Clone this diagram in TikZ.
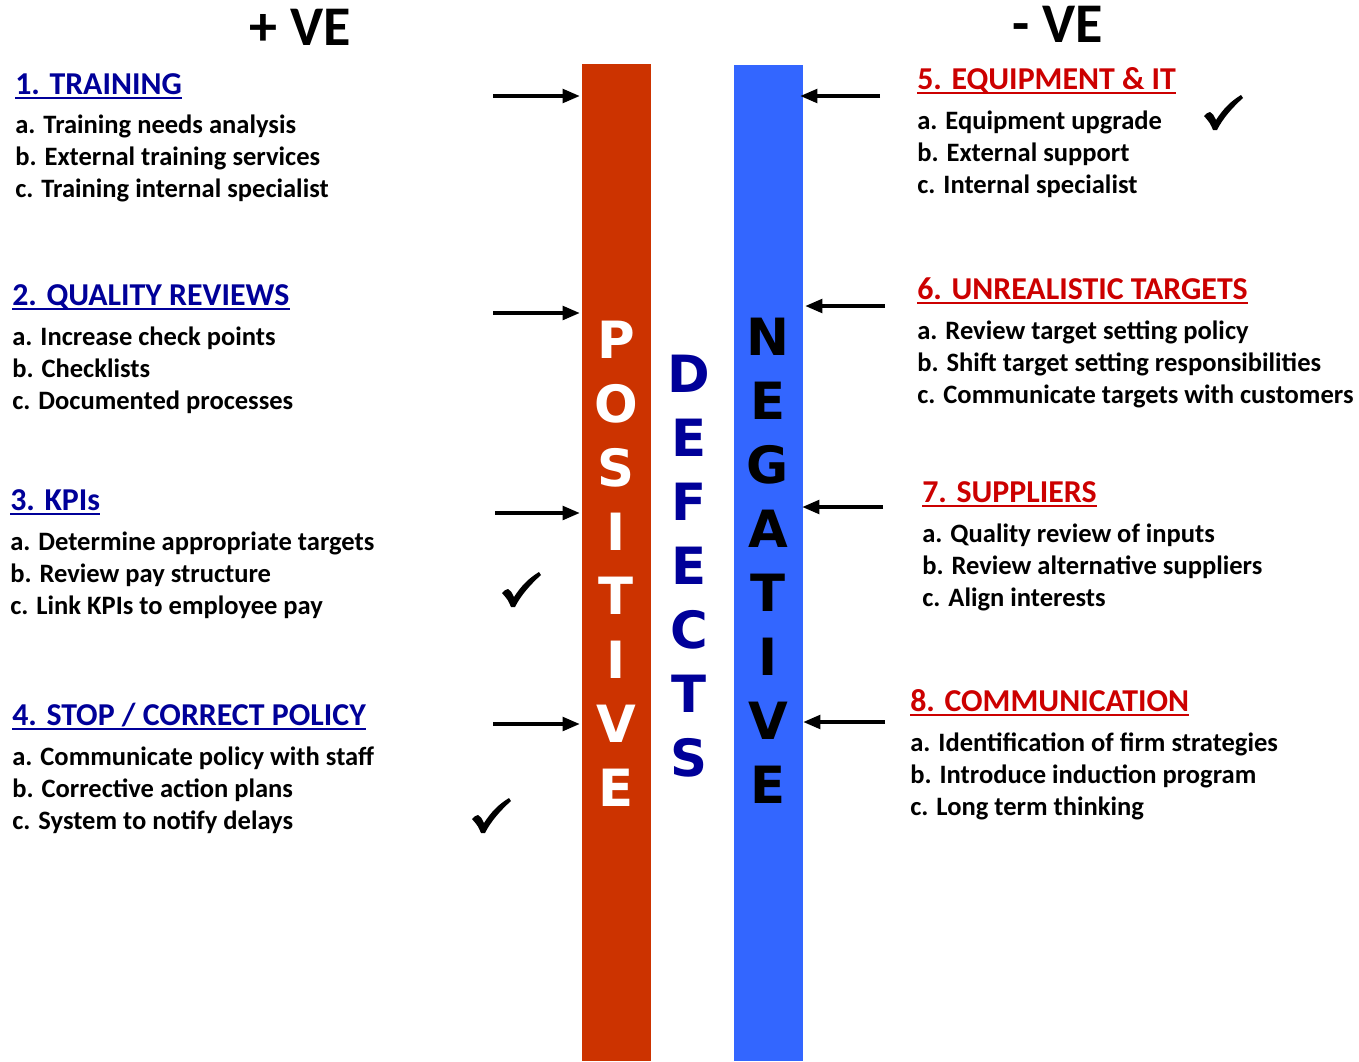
\documentclass[tikz,border=0pt]{standalone}
\usepackage{fontspec}
\setmainfont{Carlito}
\newfontfamily\bigfont{DejaVu Sans Bold}
\usetikzlibrary{arrows.meta}
\definecolor{barred}{HTML}{CC3300}
\definecolor{barblue}{HTML}{3366FF}
\definecolor{headblue}{HTML}{000099}
\definecolor{headred}{HTML}{CC0000}
\definecolor{defblue}{HTML}{000099}
\tikzset{
  item/.style={anchor=base west,inner sep=0pt,font=\fontsize{19.9}{22}\selectfont\bfseries},
  headL/.style={anchor=base west,inner sep=0pt,text=headblue,font=\fontsize{23.9}{26}\selectfont\bfseries},
  headR/.style={anchor=base west,inner sep=0pt,text=headred,font=\fontsize{23.9}{26}\selectfont\bfseries},
  ve/.style={anchor=base,inner sep=0pt,font=\fontsize{42}{44}\selectfont\bfseries},
  bigletter/.style={anchor=base,inner sep=0pt,font=\fontsize{38.5}{40}\bigfont},
  arr/.style={line width=3pt,-{Triangle[length=13pt,width=10pt]}},
  tickmark/.pic={
    \fill (-19,3) .. controls (-16,0) .. (-13,-1) .. controls (-10,1) .. (-7,7)
      .. controls (0,-4) and (8,-12) .. (18,-18) -- (20,-15)
      .. controls (10,-6) and (0,5) .. (-6,17) -- (-10,17)
      .. controls (-13,10) .. cycle;
  },
}
\begin{document}
\begin{tikzpicture}[x=0.75pt,y=-0.75pt]
\useasboundingbox[fill=white] (0,0) rectangle (1359,1061);
% bars
\fill[barred] (582,64) rectangle (651,1061);
\fill[barblue] (734,65) rectangle (803,1061);
% titles
\node[ve] (pve) at (300,45) {+ VE};
\node[ve] (nve) at (1058,42) {- VE};
% big letters
\foreach \l [count=\i from 0] in {P,O,S,I,T,I,V,E}
  \node[bigletter,text=white] (pos\i) at (616,358+64*\i) {\l};
\foreach \l [count=\i from 0] in {D,E,F,E,C,T,S}
  \node[bigletter,text=defblue] (def\i) at (689,392+64*\i) {\l};
\foreach \l [count=\i from 0] in {N,E,G,A,T,I,V,E}
  \node[bigletter,text=black] (neg\i) at (768,355+64*\i) {\l};
% left side
\node[headL] (h1) at (15,94) {1. TRAINING};
\node[item] (h1a) at (15,133) {a. Training needs analysis};
\node[item] (h1b) at (15,165) {b. External training services};
\node[item] (h1c) at (15,197) {c. Training internal specialist};
\node[headL] (h2) at (12,305) {2. QUALITY REVIEWS};
\node[item] (h2a) at (12,345) {a. Increase check points};
\node[item] (h2b) at (12,377) {b. Checklists};
\node[item] (h2c) at (12,409) {c. Documented processes};
\node[headL] (h3) at (10,510) {3. KPIs};
\node[item] (h3a) at (10,550) {a. Determine appropriate targets};
\node[item] (h3b) at (10,582) {b. Review pay structure};
\node[item] (h3c) at (10,614) {c. Link KPIs to employee pay};
\node[headL] (h4) at (12,725) {4. STOP / CORRECT POLICY};
\node[item] (h4a) at (12,765) {a. Communicate policy with staff};
\node[item] (h4b) at (12,797) {b. Corrective action plans};
\node[item] (h4c) at (12,829) {c. System to notify delays};
% right side
\node[headR] (h5) at (917,89) {5. EQUIPMENT \& IT};
\node[item] (h5a) at (917,129) {a. Equipment upgrade};
\node[item] (h5b) at (917,161) {b. External support};
\node[item] (h5c) at (917,193) {c. Internal specialist};
\node[headR] (h6) at (917,299) {6. UNREALISTIC TARGETS};
\node[item] (h6a) at (917,339) {a. Review target setting policy};
\node[item] (h6b) at (917,371) {b. Shift target setting responsibilities};
\node[item] (h6c) at (917,403) {c. Communicate targets with customers};
\node[headR] (h7) at (922,502) {7. SUPPLIERS};
\node[item] (h7a) at (922,542) {a. Quality review of inputs};
\node[item] (h7b) at (922,574) {b. Review alternative suppliers};
\node[item] (h7c) at (922,606) {c. Align interests};
\node[headR] (h8) at (910,711) {8. COMMUNICATION};
\node[item] (h8a) at (910,751) {a. Identification of firm strategies};
\node[item] (h8b) at (910,783) {b. Introduce induction program};
\node[item] (h8c) at (910,815) {c. Long term thinking};
% underlines
\foreach \h in {h1,h2,h3,h4} \draw[headblue,line width=1.5pt] ([yshift=-3pt]\h.base west) -- ([yshift=-3pt]\h.base east);
\foreach \h in {h5,h6,h7,h8} \draw[headred,line width=1.5pt] ([yshift=-3pt]\h.base west) -- ([yshift=-3pt]\h.base east);
% arrows
\coordinate (la1) at (493,96);  \coordinate (lt1) at (580,96);
\coordinate (la2) at (493,313); \coordinate (lt2) at (580,313);
\coordinate (la3) at (495,513); \coordinate (lt3) at (580,513);
\coordinate (la4) at (493,724); \coordinate (lt4) at (580,724);
\coordinate (ra1) at (880,96);  \coordinate (rt1) at (800,96);
\coordinate (ra2) at (885,306); \coordinate (rt2) at (805,306);
\coordinate (ra3) at (883,507); \coordinate (rt3) at (802,507);
\coordinate (ra4) at (885,722); \coordinate (rt4) at (803,722);
\foreach \i in {1,2,3,4} {
  \draw[arr] (la\i) -- (lt\i);
  \draw[arr] (ra\i) -- (rt\i);
}
% ticks
\pic at (521,590) {tickmark};
\pic at (491,816) {tickmark};
\pic at (1223,113) {tickmark};
\end{tikzpicture}
\end{document}
